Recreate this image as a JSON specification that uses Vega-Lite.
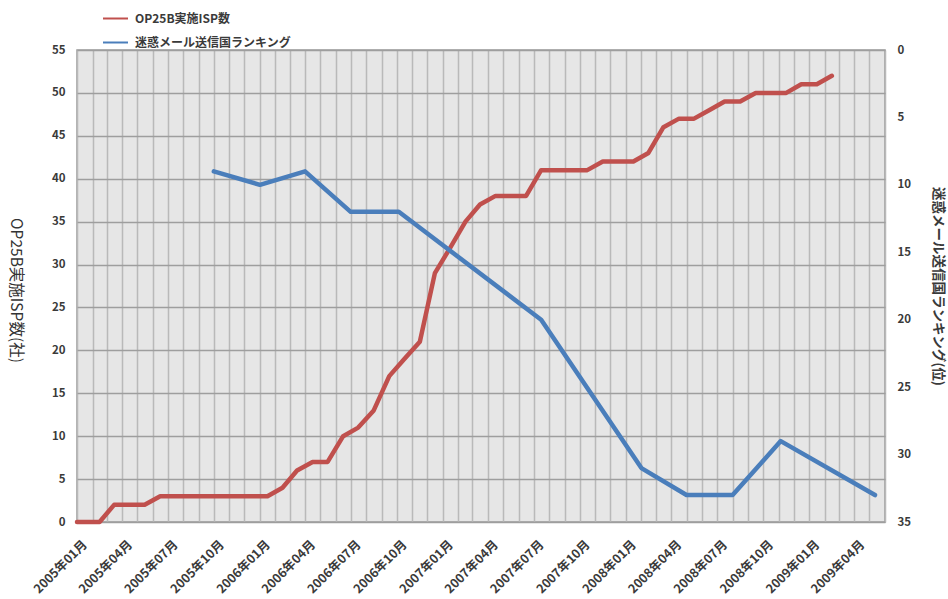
{
  "$schema": "https://vega.github.io/schema/vega-lite/v6.json",
  "width": 808,
  "height": 472,
  "autosize": {"type": "none"},
  "padding": {"left": 77, "top": 50, "right": 63, "bottom": 77},
  "background": "#ffffff",
  "config": {
    "font": "Noto Sans CJK JP",
    "view": {"fill": "#e6e6e6", "stroke": "#9a9a9a", "strokeWidth": 1.5}
  },
  "data": {
    "values": [
      {"date": "2005-01-01", "series": "OP25B実施ISP数", "value": 0},
      {"date": "2005-02-15", "series": "OP25B実施ISP数", "value": 0},
      {"date": "2005-03-16", "series": "OP25B実施ISP数", "value": 2},
      {"date": "2005-04-16", "series": "OP25B実施ISP数", "value": 2},
      {"date": "2005-05-16", "series": "OP25B実施ISP数", "value": 2},
      {"date": "2005-06-16", "series": "OP25B実施ISP数", "value": 3},
      {"date": "2005-07-16", "series": "OP25B実施ISP数", "value": 3},
      {"date": "2005-08-16", "series": "OP25B実施ISP数", "value": 3},
      {"date": "2005-09-16", "series": "OP25B実施ISP数", "value": 3},
      {"date": "2005-10-16", "series": "OP25B実施ISP数", "value": 3},
      {"date": "2005-11-16", "series": "OP25B実施ISP数", "value": 3},
      {"date": "2005-12-16", "series": "OP25B実施ISP数", "value": 3},
      {"date": "2006-01-16", "series": "OP25B実施ISP数", "value": 3},
      {"date": "2006-02-15", "series": "OP25B実施ISP数", "value": 4},
      {"date": "2006-03-16", "series": "OP25B実施ISP数", "value": 6},
      {"date": "2006-04-16", "series": "OP25B実施ISP数", "value": 7},
      {"date": "2006-05-16", "series": "OP25B実施ISP数", "value": 7},
      {"date": "2006-06-16", "series": "OP25B実施ISP数", "value": 10},
      {"date": "2006-07-16", "series": "OP25B実施ISP数", "value": 11},
      {"date": "2006-08-16", "series": "OP25B実施ISP数", "value": 13},
      {"date": "2006-09-16", "series": "OP25B実施ISP数", "value": 17},
      {"date": "2006-10-16", "series": "OP25B実施ISP数", "value": 19},
      {"date": "2006-11-16", "series": "OP25B実施ISP数", "value": 21},
      {"date": "2006-12-16", "series": "OP25B実施ISP数", "value": 29},
      {"date": "2007-01-16", "series": "OP25B実施ISP数", "value": 32},
      {"date": "2007-02-15", "series": "OP25B実施ISP数", "value": 35},
      {"date": "2007-03-16", "series": "OP25B実施ISP数", "value": 37},
      {"date": "2007-04-16", "series": "OP25B実施ISP数", "value": 38},
      {"date": "2007-05-16", "series": "OP25B実施ISP数", "value": 38},
      {"date": "2007-06-16", "series": "OP25B実施ISP数", "value": 38},
      {"date": "2007-07-16", "series": "OP25B実施ISP数", "value": 41},
      {"date": "2007-08-16", "series": "OP25B実施ISP数", "value": 41},
      {"date": "2007-09-16", "series": "OP25B実施ISP数", "value": 41},
      {"date": "2007-10-16", "series": "OP25B実施ISP数", "value": 41},
      {"date": "2007-11-16", "series": "OP25B実施ISP数", "value": 42},
      {"date": "2007-12-16", "series": "OP25B実施ISP数", "value": 42},
      {"date": "2008-01-16", "series": "OP25B実施ISP数", "value": 42},
      {"date": "2008-02-15", "series": "OP25B実施ISP数", "value": 43},
      {"date": "2008-03-16", "series": "OP25B実施ISP数", "value": 46},
      {"date": "2008-04-16", "series": "OP25B実施ISP数", "value": 47},
      {"date": "2008-05-16", "series": "OP25B実施ISP数", "value": 47},
      {"date": "2008-06-16", "series": "OP25B実施ISP数", "value": 48},
      {"date": "2008-07-16", "series": "OP25B実施ISP数", "value": 49},
      {"date": "2008-08-16", "series": "OP25B実施ISP数", "value": 49},
      {"date": "2008-09-16", "series": "OP25B実施ISP数", "value": 50},
      {"date": "2008-10-16", "series": "OP25B実施ISP数", "value": 50},
      {"date": "2008-11-16", "series": "OP25B実施ISP数", "value": 50},
      {"date": "2008-12-16", "series": "OP25B実施ISP数", "value": 51},
      {"date": "2009-01-16", "series": "OP25B実施ISP数", "value": 51},
      {"date": "2009-02-15", "series": "OP25B実施ISP数", "value": 52},
      {"date": "2005-10-01", "series": "迷惑メール送信国ランキング", "value": 9},
      {"date": "2006-01-01", "series": "迷惑メール送信国ランキング", "value": 10},
      {"date": "2006-04-01", "series": "迷惑メール送信国ランキング", "value": 9},
      {"date": "2006-07-01", "series": "迷惑メール送信国ランキング", "value": 12},
      {"date": "2006-10-05", "series": "迷惑メール送信国ランキング", "value": 12},
      {"date": "2007-07-16", "series": "迷惑メール送信国ランキング", "value": 20},
      {"date": "2008-02-01", "series": "迷惑メール送信国ランキング", "value": 31},
      {"date": "2008-05-01", "series": "迷惑メール送信国ランキング", "value": 33},
      {"date": "2008-08-01", "series": "迷惑メール送信国ランキング", "value": 33},
      {"date": "2008-11-05", "series": "迷惑メール送信国ランキング", "value": 29},
      {"date": "2009-05-12", "series": "迷惑メール送信国ランキング", "value": 33}
    ]
  },
  "encoding": {
    "x": {
      "field": "date",
      "type": "temporal",
      "scale": {
        "type": "utc",
        "domain": [
          {"year": 2005, "month": 1, "date": 1, "utc": true},
          {"year": 2009, "month": 6, "date": 1, "utc": true}
        ]
      },
      "axis": {
        "title": null,
        "tickCount": {"interval": "month", "step": 1},
        "grid": true,
        "gridColor": "#b9b9b9",
        "gridWidth": 1.5,
        "domain": false,
        "ticks": false,
        "labelExpr": "utcmonth(datum.value) % 3 == 0 ? utcFormat(datum.value, '%Y年%m月') : ''",
        "labelAngle": -45,
        "labelAlign": "right",
        "labelBaseline": "middle",
        "labelOffset": 7.6,
        "labelPadding": 20,
        "labelOverlap": false,
        "labelBound": false,
        "labelFlush": false,
        "labelFont": "Noto Sans CJK JP",
        "labelFontSize": 12.5,
        "labelFontWeight": "bold",
        "labelColor": "#3a3a3a"
      }
    },
    "color": {
      "field": "series",
      "type": "nominal",
      "scale": {
        "domain": ["OP25B実施ISP数", "迷惑メール送信国ランキング"],
        "range": ["#c0504d", "#4a7ebb"]
      },
      "legend": {
        "title": null,
        "orient": "none",
        "legendX": 25,
        "legendY": -45,
        "symbolType": "M-1,0H1",
        "symbolSize": 625,
        "symbolStrokeWidth": 2,
        "rowPadding": 4,
        "labelFont": "Noto Sans CJK JP",
        "labelFontSize": 12,
        "labelFontWeight": "bold",
        "labelColor": "#3a3a3a",
        "labelOffset": 6
      }
    }
  },
  "layer": [
    {
      "transform": [{"filter": "datum.series == 'OP25B実施ISP数'"}],
      "mark": {"type": "line", "strokeWidth": 4.5, "strokeCap": "round", "strokeJoin": "round"},
      "encoding": {
        "y": {
          "field": "value",
          "type": "quantitative",
          "scale": {"domain": [0, 55], "nice": false},
          "axis": {
            "orient": "left",
            "values": [0, 5, 10, 15, 20, 25, 30, 35, 40, 45, 50, 55],
            "grid": true,
            "gridColor": "#9e9e9e",
            "gridWidth": 1.6,
            "domain": false,
            "ticks": false,
            "labelPadding": 12,
            "labelFont": "Noto Sans CJK JP",
            "labelFontSize": 11.5,
            "labelFontWeight": "bold",
            "labelColor": "#3a3a3a",
            "title": "OP25B実施ISP数(社)",
            "titleAngle": 90,
            "titleX": -62,
            "titleY": 240,
            "titleAlign": "center",
            "titleBaseline": "middle",
            "titleFont": "Noto Sans CJK JP",
            "titleFontSize": 15.5,
            "titleFontWeight": "normal",
            "titleColor": "#333333"
          }
        }
      }
    },
    {
      "transform": [{"filter": "datum.series == '迷惑メール送信国ランキング'"}],
      "mark": {"type": "line", "strokeWidth": 4.5, "strokeCap": "round", "strokeJoin": "round"},
      "encoding": {
        "y": {
          "field": "value",
          "type": "quantitative",
          "scale": {"domain": [0, 35], "reverse": true, "nice": false},
          "axis": {
            "orient": "right",
            "values": [0, 5, 10, 15, 20, 25, 30, 35],
            "grid": false,
            "domain": false,
            "ticks": false,
            "labelPadding": 12,
            "labelFont": "Noto Sans CJK JP",
            "labelFontSize": 11.5,
            "labelFontWeight": "bold",
            "labelColor": "#3a3a3a",
            "title": "迷惑メール送信国ランキング(位)",
            "titleAngle": 90,
            "titleX": 52,
            "titleY": 236,
            "titleAlign": "center",
            "titleBaseline": "middle",
            "titleFont": "Noto Sans CJK JP",
            "titleFontSize": 13.5,
            "titleFontWeight": "bold",
            "titleColor": "#3a3a3a"
          }
        }
      }
    }
  ],
  "resolve": {"scale": {"y": "independent"}, "axis": {"y": "independent"}}
}
